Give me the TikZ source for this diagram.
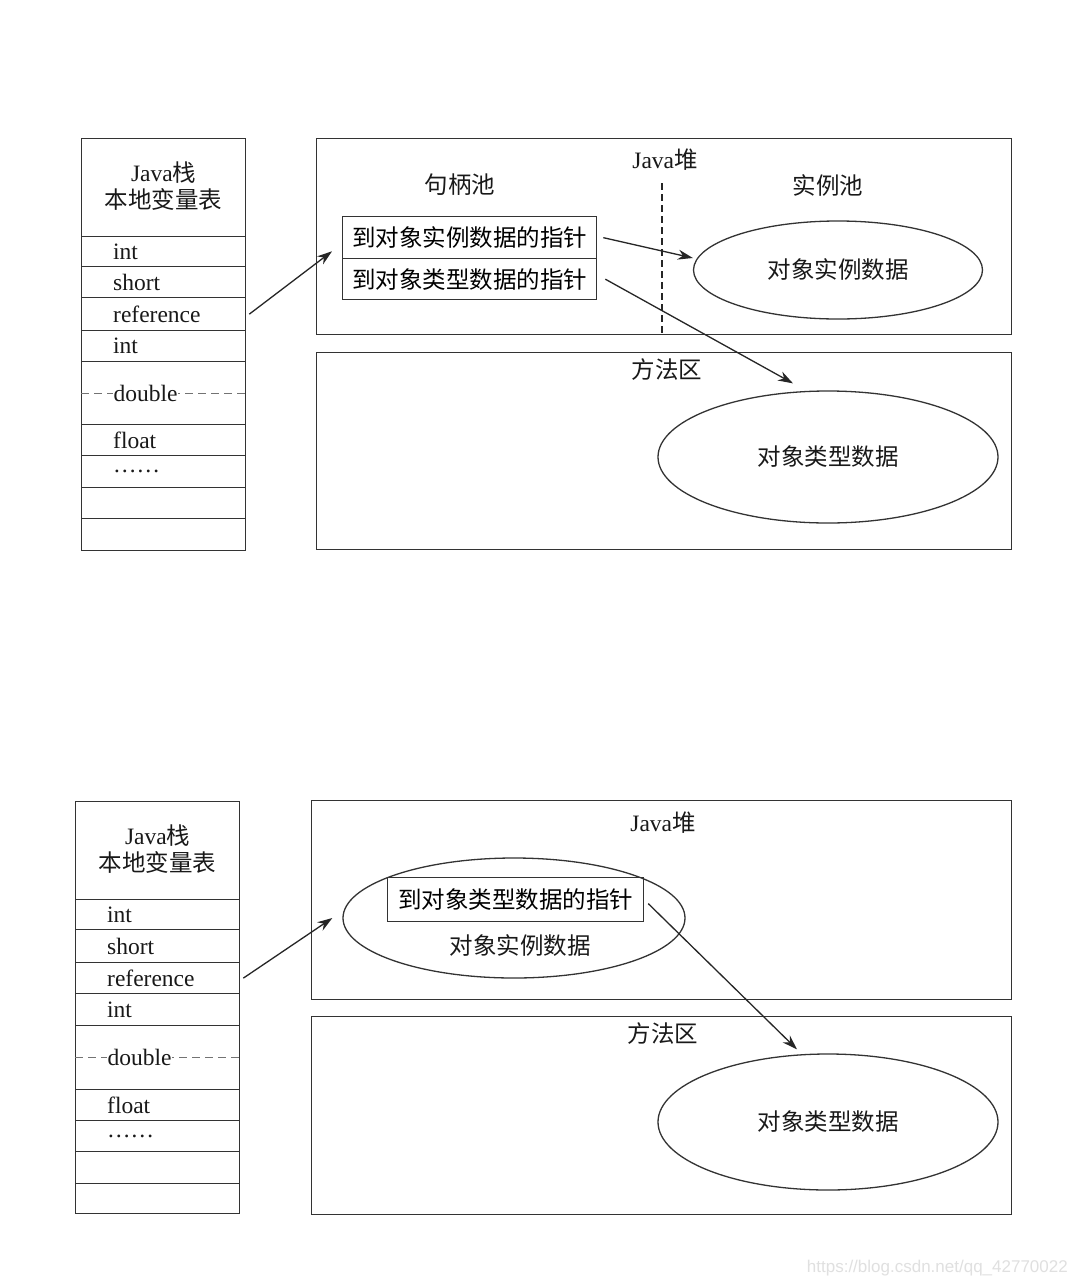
\documentclass[tikz,border=0pt]{standalone}
\usepackage{fontspec}
\setmainfont{Liberation Serif}
\newfontfamily\cjk{Noto Sans CJK SC}
\newfontfamily\wmfont{Liberation Sans}
\usetikzlibrary{shapes.geometric,arrows.meta}
\newcommand\zhtxt[1]{{\cjk #1}}
\tikzset{
  ln/.style={draw=black!80, line width=1.3pt},
  cell/.style={ln, rectangle, anchor=north west, minimum width=164pt, inner sep=0pt},
  celltext/.style={anchor=west, inner sep=1pt, font=\fontsize{23.5}{27}\selectfont, text=black!90},
  lbl/.style={inner sep=0pt, font=\fontsize{23.5}{27}\selectfont, text=black!90, align=center},
  bigbox/.style={ln, rectangle, anchor=north west, inner sep=0pt},
  oval/.style={ln, ellipse, inner sep=0pt, font=\fontsize{23.5}{27}\selectfont, text=black!90},
  arr/.style={draw=black!85, line width=1.3pt, -{Stealth[length=15pt,width=10pt]}},
  rowdash/.style={draw=black!55, line width=0.9pt, dash pattern=on 8pt off 5pt},
}
\begin{document}
\begin{tikzpicture}[x=1pt,y=-1pt]
\useasboundingbox[fill=white] (0,0) rectangle (1080,1286);

% ===== top diagram =====
\node[cell, minimum height=98pt] (Ah) at (81,138) {};
\node[lbl] (Aht) at ([yshift=2pt]Ah.center) {Java\zhtxt{栈}\\[0pt]\zhtxt{本地变量表}};
\foreach \n/\t/\b/\s in {i1/236/266/int, sh/266/297/short, rf/297/330/reference, i2/330/361/int, db/361/424/, fl/424/455/float, dt/455/487/……, e1/487/518/, e2/518/550/}{
  \pgfmathsetmacro\hh{\b-\t}
  \node[cell, minimum height=\hh pt] (A\n) at (81,\t) {};
  \node[celltext] (A\n-t) at ([xshift=31pt]A\n.west) {\s};
}
\draw[rowdash] (Adb.west) -- (Adb.east);
\node[celltext, fill=white, inner sep=0.5pt] (Adb-t) at ([xshift=32pt]Adb.west) {double};

\node[bigbox, minimum width=695pt, minimum height=196pt] (heapA) at (316,138) {};
\node[lbl] (heapAt) at (665,160) {Java\zhtxt{堆}};
\node[lbl] (poolA) at (460,185) {\zhtxt{句柄池}};
\node[lbl] (poolB) at (828,185) {\zhtxt{实例池}};
\coordinate (dtop) at (662,183);
\draw[draw=black!85, line width=1.1pt, dash pattern=on 7pt off 4pt] (dtop) -- (dtop |- heapA.south);
\node[cell, minimum width=254pt, minimum height=42pt, font=\fontsize{23.5}{27}\selectfont] (hb1) at (342,216) {\zhtxt{到对象实例数据的指针}};
\node[cell, minimum width=254pt, minimum height=41pt, font=\fontsize{23.5}{27}\selectfont] (hb2) at (342,258) {\zhtxt{到对象类型数据的指针}};
\node[oval, minimum width=289pt, minimum height=98pt] (eA) at (838,270) {\zhtxt{对象实例数据}};

\node[bigbox, minimum width=695pt, minimum height=197pt] (methA) at (316,352) {};
\node[lbl] (methAt) at (667,370) {\zhtxt{方法区}};
\node[oval, minimum width=340pt, minimum height=132pt] (eB) at (828,457) {\zhtxt{对象类型数据}};

\draw[arr] ([xshift=3pt]Arf.east) -- ([xshift=-10pt,yshift=8pt]hb1.south west);
\draw[arr] ([xshift=6pt]hb1.east) -- ([yshift=12pt]eA.west);
\draw[arr] ([xshift=8pt]hb2.east) -- ([xshift=-35pt,yshift=7pt]eB.north);

% ===== bottom diagram =====
\node[cell, minimum height=98pt] (Bh) at (75,801) {};
\node[lbl] (Bht) at ([yshift=2pt]Bh.center) {Java\zhtxt{栈}\\[0pt]\zhtxt{本地变量表}};
\foreach \n/\t/\b/\s in {i1/899/929/int, sh/929/962/short, rf/962/993/reference, i2/993/1025/int, db/1025/1089/, fl/1089/1120/float, dt/1120/1151/……, e1/1151/1183/, e2/1183/1213/}{
  \pgfmathsetmacro\hh{\b-\t}
  \node[cell, minimum height=\hh pt] (B\n) at (75,\t) {};
  \node[celltext] (B\n-t) at ([xshift=31pt]B\n.west) {\s};
}
\draw[rowdash] (Bdb.west) -- (Bdb.east);
\node[celltext, fill=white, inner sep=0.5pt] (Bdb-t) at ([xshift=32pt]Bdb.west) {double};

\node[bigbox, minimum width=700pt, minimum height=199pt] (heapB) at (311,800) {};
\node[lbl] (heapBt) at (663,823) {Java\zhtxt{堆}};
\node[oval, minimum width=342pt, minimum height=120pt] (eC) at (514,918) {};
\node[cell, minimum width=256pt, minimum height=44pt, font=\fontsize{23.5}{27}\selectfont] (ib) at (387,877) {\zhtxt{到对象类型数据的指针}};
\node[lbl] (eCt) at (520,946) {\zhtxt{对象实例数据}};

\node[bigbox, minimum width=700pt, minimum height=198pt] (methB) at (311,1016) {};
\node[lbl] (methBt) at (663,1034) {\zhtxt{方法区}};
\node[oval, minimum width=340pt, minimum height=136pt] (eD) at (828,1122) {\zhtxt{对象类型数据}};

\draw[arr] ([xshift=3pt]Brf.east) -- ([xshift=-10pt]eC.west);
\draw[arr] ([xshift=4pt,yshift=-4pt]ib.east) -- ([xshift=-31pt,yshift=4pt]eD.north);

\node[anchor=east, inner sep=0pt, font=\wmfont\fontsize{17}{20}\selectfont, text=black!12] (wm) at (1068,1268) {https://blog.csdn.net/qq\_42770022};
\end{tikzpicture}
\end{document}
